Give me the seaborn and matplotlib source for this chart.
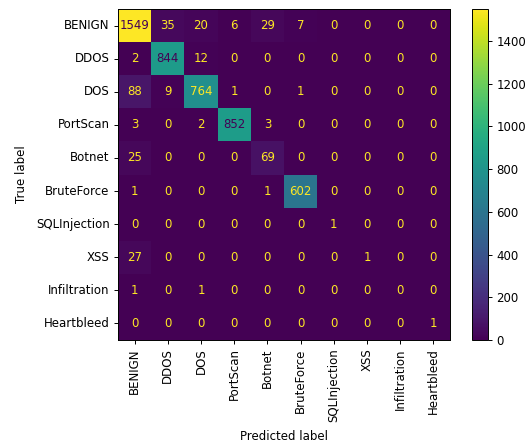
import numpy as np
import matplotlib
matplotlib.use("Agg")
import matplotlib.pyplot as plt
import seaborn as sns

classes = ["BENIGN", "DDOS", "DOS", "PortScan", "Botnet", "BruteForce",
           "SQLInjection", "XSS", "Infiltration", "Heartbleed"]

row_benign = [1549, 35, 20, 6, 29, 7, 0, 0, 0, 0]
row_ddos = [2, 844, 12, 0, 0, 0, 0, 0, 0, 0]
row_dos = [88, 9, 764, 1, 0, 1, 0, 0, 0, 0]
row_portscan = [3, 0, 2, 852, 3, 0, 0, 0, 0, 0]
row_botnet = [25, 0, 0, 0, 69, 0, 0, 0, 0, 0]
row_bruteforce = [1, 0, 0, 0, 1, 602, 0, 0, 0, 0]
row_sqli = [0, 0, 0, 0, 0, 0, 1, 0, 0, 0]
row_xss = [27, 0, 0, 0, 0, 0, 0, 1, 0, 0]
row_infiltration = [1, 0, 1, 0, 0, 0, 0, 0, 0, 0]
row_heartbleed = [0, 0, 0, 0, 0, 0, 0, 0, 0, 1]

cm = np.array([row_benign, row_ddos, row_dos, row_portscan, row_botnet,
               row_bruteforce, row_sqli, row_xss, row_infiltration,
               row_heartbleed])

FS = 8.5
LW = 0.7
TL = 3.0

W, H = 526, 445
fig = plt.figure(figsize=(W / 100, H / 100), dpi=100)
ax = fig.add_axes([118 / W, 1 - 340 / H, 332 / W, 331 / H])
cax = fig.add_axes([472 / W, 1 - 340 / H, 16 / W, 331 / H])

cmap = plt.get_cmap("viridis")
sns.heatmap(cm, ax=ax, cbar_ax=cax, cmap=cmap, vmin=0, vmax=cm.max(),
            annot=True, fmt="d", annot_kws={"fontsize": FS},
            xticklabels=classes, yticklabels=classes, square=False)

# text colour: light on dark cells, dark on bright cells
thresh = (cm.max() + cm.min()) / 2.0
c_low, c_high = cmap(0.0), cmap(1.0)
for t in ax.texts:
    x, y = t.get_position()
    v = cm[int(y), int(x)]
    t.set_color(c_low if v >= thresh else c_high)

for s in ax.spines.values():
    s.set_visible(True)
    s.set_linewidth(LW)
    s.set_color("black")
ax.tick_params(axis="both", length=TL, width=LW, pad=3.0, labelsize=FS)
ax.set_xticklabels(classes, rotation=90)
ax.set_yticklabels(classes, rotation=0)
ax.set_xlabel("Predicted label", fontsize=FS, labelpad=6)
ax.set_ylabel("True label", fontsize=FS, labelpad=6)

cbar = ax.collections[0].colorbar
cbar.outline.set_visible(True)
cbar.outline.set_linewidth(LW)
cbar.set_ticks([0, 200, 400, 600, 800, 1000, 1200, 1400])
cax.tick_params(length=TL, width=LW, pad=3.0, labelsize=FS)

fig.savefig("out.png", dpi=100)
